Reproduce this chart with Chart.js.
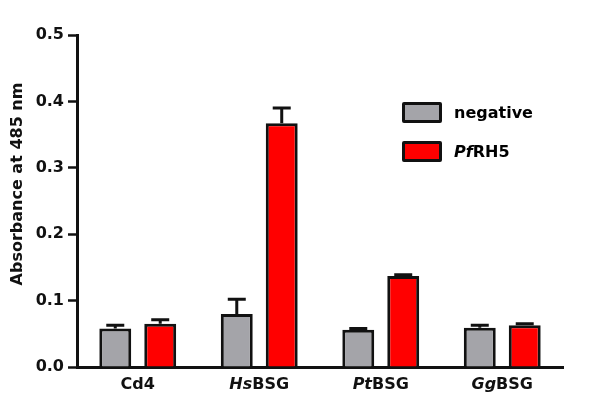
<!DOCTYPE html>
<html>
<head>
<meta charset="utf-8">
<script src="https://cdn.jsdelivr.net/npm/chart.js@4"></script>
<style>
  html, body { margin: 0; padding: 0; background: #fff; }
  #wrap { position: relative; width: 603px; height: 395px; }
  #legend { position: absolute; left: 402px; top: 102px; font: bold 16px "DejaVu Sans", sans-serif; }
  .item { display: flex; align-items: center; height: 21px; margin-bottom: 18px; }
  .box { width: 34px; height: 15px; border: 3px solid #111; border-radius: 2px; margin-right: 12px; }
</style>
</head>
<body>
<div id="wrap">
  <canvas id="chart" width="603" height="395"></canvas>
  <div id="legend"></div>
</div>
<script>
// categories: [italic prefix, plain rest]
const categoryParts = [["", "Cd4"], ["Hs", "BSG"], ["Pt", "BSG"], ["Gg", "BSG"]];
const seriesNames = [["", "negative"], ["Pf", "RH5"]];
const seriesColors = ["#a4a4a9", "#ff0000"];

const negative = [0.058, 0.080, 0.056, 0.059];
const negativeErr = [0.005, 0.022, 0.002, 0.004];
const pfrh5 = [0.065, 0.367, 0.137, 0.063];
const pfrh5Err = [0.006, 0.023, 0.002, 0.002];

const yTicks = [0, 0.1, 0.2, 0.3, 0.4, 0.5];
const yTitle = "Absorbance at 485 nm";

const errors = [negativeErr, pfrh5Err];
const FONT = '"DejaVu Sans", sans-serif';

// legend
const legend = document.getElementById("legend");
seriesNames.forEach((n, i) => {
  const d = document.createElement("div");
  d.className = "item";
  d.innerHTML = `<span class="box" style="background:${seriesColors[i]}"></span><span><i>${n[0]}</i>${n[1]}</span>`;
  legend.appendChild(d);
});

// error bars (upper only), custom x labels and y title
const extras = {
  id: "extras",
  afterDatasetsDraw(chart) {
    const ctx = chart.ctx;
    const y = chart.scales.y;
    ctx.save();
    ctx.strokeStyle = "#111";
    ctx.lineWidth = 3;
    chart.data.datasets.forEach((ds, i) => {
      chart.getDatasetMeta(i).data.forEach((bar, j) => {
        const y0 = y.getPixelForValue(ds.data[j]);
        const y1 = y.getPixelForValue(ds.data[j] + errors[i][j]);
        ctx.beginPath();
        ctx.moveTo(bar.x, y0);
        ctx.lineTo(bar.x, y1);
        ctx.moveTo(bar.x - 9, y1);
        ctx.lineTo(bar.x + 9, y1);
        ctx.stroke();
      });
    });
    ctx.restore();
  },
  afterDraw(chart) {
    const ctx = chart.ctx;
    const x = chart.scales.x;
    ctx.save();
    ctx.fillStyle = "#111";
    ctx.textBaseline = "alphabetic";
    categoryParts.forEach((p, i) => {
      const cx = x.getPixelForValue(i);
      ctx.font = "italic bold 16px " + FONT;
      const w1 = ctx.measureText(p[0]).width;
      ctx.font = "bold 16px " + FONT;
      const w2 = ctx.measureText(p[1]).width;
      let sx = cx - (w1 + w2) / 2;
      ctx.font = "italic bold 16px " + FONT;
      ctx.fillText(p[0], sx, 389);
      ctx.font = "bold 16px " + FONT;
      ctx.fillText(p[1], sx + w1, 389);
    });
    ctx.translate(22, 184);
    ctx.rotate(-Math.PI / 2);
    ctx.textAlign = "center";
    ctx.font = "bold 16px " + FONT;
    ctx.fillText(yTitle, 0, 0);
    ctx.restore();
  }
};

new Chart(document.getElementById("chart"), {
  type: "bar",
  data: {
    labels: categoryParts.map(p => p[0] + p[1]),
    datasets: [
      { label: "negative", data: negative, backgroundColor: seriesColors[0], borderColor: "#111", borderWidth: 3 },
      { label: "PfRH5", data: pfrh5, backgroundColor: seriesColors[1], borderColor: "#111", borderWidth: 3 }
    ]
  },
  options: {
    responsive: false,
    animation: false,
    events: [],
    layout: { padding: { top: 35, right: 40, left: 0, bottom: 0 } },
    datasets: { bar: { categoryPercentage: 0.74, barPercentage: 0.71 } },
    plugins: { legend: { display: false }, tooltip: { enabled: false } },
    scales: {
      x: {
        ticks: { display: false },
        grid: { display: false },
        border: { display: true, color: "#111", width: 3 },
        afterFit: s => { s.height = 28; }
      },
      y: {
        min: 0,
        max: 0.5,
        afterBuildTicks: s => { s.ticks = yTicks.map(v => ({ value: v })); },
        ticks: { color: "#111", padding: 4, font: { family: FONT, size: 16, weight: "bold" }, callback: v => v.toFixed(1) },
        grid: { drawOnChartArea: false, drawTicks: true, tickLength: 9, tickWidth: 2.5, tickColor: "#111" },
        border: { display: true, color: "#111", width: 3 },
        afterFit: s => { s.width = 77; }
      }
    }
  },
  plugins: [extras]
});
</script>
</body>
</html>
